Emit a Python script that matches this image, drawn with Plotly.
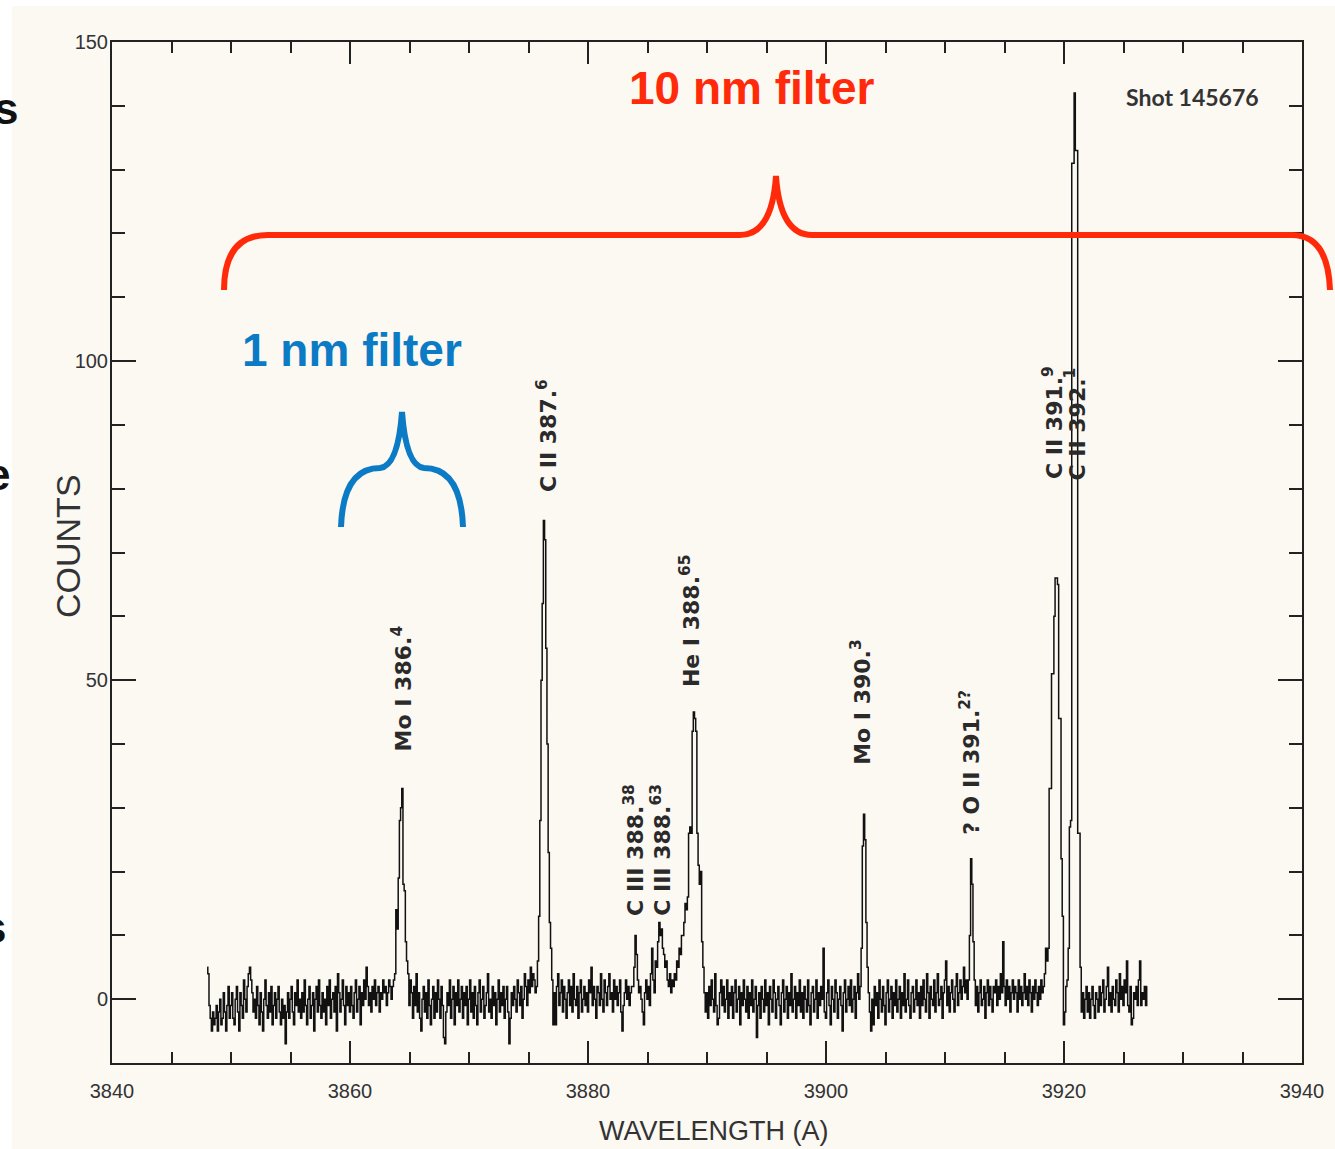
import plotly.graph_objects as go

# ---------------- data ----------------
wl_start = 3848.0   # first wavelength sample (A)
wl_step = 0.1       # sample spacing (A)

counts = [
    5, 4, -1, -3, -5, -2, -4, -3, -1, -5, -2, 0, -4, -3, 1, -2, -5, -1, 2, -3,
    -1, 1, -3, -4, 0, 2, -2, -5, 1, -1, -3, 3, 0, -2, 2, 4, 5, 3, 1, -2,
    0, -3, 2, -1, -4, 1, -2, -5, 0, 3, -1, -3, 1, -2, 2, -4, -1, 1, -3, 0,
    2, -2, -4, 0, -3, -1, -7, -2, 1, -3, 0, 2, -2, -4, 1, -1, 3, -2, 0, -3,
    1, -2, 3, -1, -4, 0, 2, -3, -1, 1, -5, 0, 2, -2, 3, -1, -3, 1, -2, 0,
    -4, 2, -1, 3, -3, 0, 1, -2, 2, -5, 4, 1, -2, 0, 3, -1, -4, 2, -1, 1,
    -2, 2, -1, -3, 1, 3, -2, 0, 2, -4, 1, -1, 3, 0, 5, 2, -1, 1, -2, 2,
    0, 3, -1, 1, 2, -2, 1, 0, 3, 1, 2, -1, 1, 3, 2, 0, 2, 3, 4, 14,
    11, 19, 28, 30, 33, 18, 17, 9, 6, 4, -1, 3, 1, -3, 2, -1, 4, -2, 1, -3,
    -5, 0, 2, -2, 1, -3, 3, -1, -4, 0, 2, -3, 1, -2, 3, 0, -3, 2, -1, -6,
    -7, -2, 1, -1, 3, -3, 0, 2, -4, 1, -1, 3, -2, 0, 2, -3, 1, -1, 2, -4,
    0, 3, -2, 1, -3, 2, -1, -4, 1, 3, -2, 0, 2, -3, -1, 1, 4, -2, 0, -3,
    2, -1, 1, -4, 0, 3, -2, 1, -1, 2, -3, 0, 2, -2, -7, -3, 1, -1, 2, 0,
    -2, 3, 1, -1, 2, -3, 0, 4, 2, -1, 3, 1, 5, 2, 4, 3, 1, 2, 6, 13,
    28, 50, 62, 75, 72, 55, 40, 23, 12, 8, 3, -4, 1, -4, 2, 4, -1, 1, 3, -2,
    2, 0, -3, 1, 3, -1, 2, -2, 4, 0, -1, 2, -3, 1, 3, -2, 0, 2, -1, 1,
    -2, 3, 1, 5, -1, 2, 0, -3, 2, 1, -1, 4, 0, -2, 3, 1, -1, 2, 4, 0,
    1, -2, 3, 0, 2, -1, 1, 3, -2, -5, -1, 1, 3, 0, 2, -1, 1, 2, 2, 5,
    10, 7, 3, 1, 2, 0, -2, -4, 1, 3, 0, 2, -1, 4, 8, 3, 1, 6, 5, 9,
    12, 10, 11, 8, 7, 5, 6, 3, 2, 4, 1, 3, 2, 4, 3, 6, 5, 8, 7, 10,
    10, 12, 15, 14, 16, 26, 27, 26, 42, 45, 44, 42, 26, 21, 18, 20, 9, 5, 1, -2,
    1, -3, 2, -1, 3, 0, -2, 4, -1, -4, -3, 1, 3, -1, 2, -2, 0, 3, -3, 1,
    -1, 2, -3, 1, 3, -2, 0, 2, -4, 1, -1, 3, 0, -2, 2, -3, 1, -1, 3, -2,
    0, 2, -6, -1, 1, -3, 2, 0, -2, 3, -1, 1, -4, 2, 0, -2, 3, 1, -3, 0,
    2, -1, -4, 1, 3, -2, 0, 2, -3, 1, -1, 4, -2, 0, 2, -3, 1, -1, 3, -2,
    1, -3, 2, 0, -2, 3, -1, -4, 1, 2, -2, 0, 3, -3, 1, -1, 2, 0, 8, -2,
    -3, 1, 3, -1, -4, 2, 0, -2, 3, 1, -3, 0, 2, -1, -5, 1, 3, -2, 0, 2,
    -1, 3, -2, 0, 2, -3, 1, 4, 0, 2, 8, 24, 29, 25, 12, 5, 1, -2, -5, 0,
    -4, 2, -1, 1, -3, 3, 0, -2, 2, -1, -4, 1, 3, -2, 0, 2, -3, 1, -1, 3,
    -2, 0, 2, -3, 1, -1, 4, -2, 0, 3, -1, -3, 1, 2, -2, 0, 3, -1, 1, -3,
    2, -1, 3, 0, -2, 4, 1, -3, 2, 0, -1, 3, -2, 1, 4, -1, 0, 2, -3, 1,
    3, 6, -1, 2, -2, 1, 3, 0, -2, 2, 4, -1, 1, 3, 0, 2, 5, 1, 3, 0,
    3, 10, 22, 18, 9, 3, -1, 2, -2, 1, 3, -1, 0, 2, -3, 1, 3, -1, 2, 0,
    -2, 2, 1, 3, -1, 2, 0, 4, 1, 9, 2, -1, 3, 0, 2, -2, 1, 3, 0, 2,
    1, -2, 3, 0, 2, -1, 1, 4, 0, 2, -1, 3, 1, -2, 2, 0, 3, 1, -1, 2,
    0, 3, 1, 2, 4, 8, 6, 8, 33, 33, 51, 51, 60, 66, 66, 65, 44, 44, 22, 13,
    -4, -2, 2, 3, 8, 27, 28, 131, 131, 142, 133, 133, 26, 26, 5, -2, 1, -3, 0, 2,
    -2, 1, -3, 0, 2, -1, -3, 1, 0, -2, 2, -1, 1, 3, -2, 0, 2, 5, -1, 1,
    -2, 2, 0, -1, 3, 1, -2, 4, 0, 2, -1, 3, 1, 6, -1, -2, 2, -4, -3, 1,
    0, 2, -1, 3, 6, -1, 1, 0, 2, -1, 2,
]
wavelength = [round(wl_start + wl_step * i, 2) for i in range(len(counts))]

line_labels = [
    "Mo I 386.<sup>4</sup>",
    "C II 387.<sup>6</sup>",
    "C III 388.<sup>38</sup>",
    "C III 388.<sup>63</sup>",
    "He I 388.<sup>65</sup>",
    "Mo I 390.<sup>3</sup>",
    "? O II 391.<sup>2?</sup>",
    "C II 391.<sup>9</sup>",
    "C II 392.<sup>1</sup>",
]
line_label_wl = [3864.37, 3876.55, 3883.87, 3886.13, 3888.57, 3902.94, 3912.1, 3919.08, 3920.92]
line_label_y = [48.7, 88.4, 23.4, 23.4, 59.4, 46.6, 37.2, 90.3, 90.2]

x_range = [3840, 3940]
y_range = [-10, 150]

# ---------------- layout helpers ----------------
W, H = 1335, 1149
L, R, T, B = 112, 1302, 42, 1063
def X(p):
    return (p - L) / (R - L)
def Y(p):
    return (B - p) / (B - T)

cream = "#FCF8F2"
ink = "#222222"
red = "#FF2A0A"
blue = "#0A7BC4"

fig = go.Figure()
fig.add_trace(go.Scatter(
    x=wavelength, y=counts, mode="lines",
    line=dict(color="#111111", width=1.5, shape="hvh"),
    hoverinfo="skip",
))

tickfont = dict(family="Liberation Sans, Arial, sans-serif", size=20, color="#333333")

fig.update_layout(
    width=W, height=H,
    margin=dict(l=L, r=W - R, t=T, b=H - B),
    paper_bgcolor=cream, plot_bgcolor=cream,
    showlegend=False,
    xaxis=dict(
        range=x_range, tick0=3840, dtick=20, ticks="inside", ticklen=22, tickwidth=1.5,
        tickcolor=ink, showline=True, linecolor=ink, linewidth=2, mirror="ticks",
        showgrid=False, zeroline=False, tickfont=tickfont, ticklabelstandoff=9,
        minor=dict(dtick=5, ticks="inside", ticklen=11, tickwidth=1.5, tickcolor=ink, showgrid=False),
    ),
    yaxis=dict(
        range=y_range, tick0=0, dtick=50, ticks="inside", ticklen=24, tickwidth=1.5,
        tickcolor=ink, showline=True, linecolor=ink, linewidth=2, mirror="ticks",
        showgrid=False, zeroline=False, tickfont=tickfont, ticklabelstandoff=-2,
        minor=dict(dtick=10, ticks="inside", ticklen=13, tickwidth=1.5, tickcolor=ink, showgrid=False),
    ),
)

shapes = []
# white margins of the slide crop
shapes.append(dict(type="rect", xref="paper", yref="paper", x0=X(0), x1=X(12), y0=Y(H), y1=Y(0),
                   fillcolor="white", line=dict(width=0), layer="below"))
shapes.append(dict(type="rect", xref="paper", yref="paper", x0=X(0), x1=X(W), y0=Y(6), y1=Y(0),
                   fillcolor="white", line=dict(width=0), layer="below"))

def pth(cmds):
    out = []
    for c in cmds:
        if isinstance(c, str):
            out.append(c)
        else:
            out.append(f"{X(c[0]):.5f},{Y(c[1]):.5f}")
    return " ".join(out)

red_path = pth(["M", (224, 290), "Q", (224, 235), (268, 235), "L", (740, 235),
                "Q", (772, 235), (776, 176), "Q", (780, 235), (812, 235),
                "L", (1292, 235), "Q", (1328, 235), (1330, 290)])
blue_path = pth(["M", (341, 527), "Q", (343, 468), (380, 468), "Q", (398, 466), (402, 412),
                 "Q", (406, 466), (424, 468), "Q", (461, 468), (463, 527)])
shapes.append(dict(type="path", xref="paper", yref="paper", path=red_path,
                   line=dict(color=red, width=6), layer="above"))
shapes.append(dict(type="path", xref="paper", yref="paper", path=blue_path,
                   line=dict(color=blue, width=6), layer="above"))
fig.update_layout(shapes=shapes)

ann = []
label_font = dict(family="DejaVu Sans", size=22, color="#2a2a2a")
for txt, xv, yv in zip(line_labels, line_label_wl, line_label_y):
    ann.append(dict(x=xv, y=yv, xref="x", yref="y", text="<b>" + txt + "</b>", showarrow=False,
                    textangle=-90, xanchor="center", yanchor="middle", font=label_font))

ann.append(dict(x=X(1192), y=Y(97), xref="paper", yref="paper", text="<b>Shot 145676</b>",
                showarrow=False, xanchor="center", yanchor="middle",
                font=dict(family="Lato", size=23, color="#333333")))
ann.append(dict(x=X(752), y=Y(88), xref="paper", yref="paper", text="<b>10 nm filter</b>",
                showarrow=False, xanchor="center", yanchor="middle",
                font=dict(family="Liberation Sans", size=46, color=red)))
ann.append(dict(x=X(352), y=Y(350), xref="paper", yref="paper", text="<b>1 nm filter</b>",
                showarrow=False, xanchor="center", yanchor="middle",
                font=dict(family="Liberation Sans", size=46, color=blue)))
ann.append(dict(x=X(714), y=Y(1131), xref="paper", yref="paper", text="WAVELENGTH (A)",
                showarrow=False, xanchor="center", yanchor="middle",
                font=dict(family="Liberation Sans", size=27, color="#333333")))
ann.append(dict(x=X(68), y=Y(546), xref="paper", yref="paper", text="COUNTS", textangle=-90,
                showarrow=False, xanchor="center", yanchor="middle",
                font=dict(family="Liberation Sans", size=34, color="#333333")))
# cut-off letters from the slide text on the left edge (partially outside the crop, as in the source)
for txt, xr, yc in [("s", 20, 108), ("e", 12, 474), ("s", 8, 927)]:
    ann.append(dict(x=X(xr), y=Y(yc), xref="paper", yref="paper", text="<b>" + txt + "</b>",
                    showarrow=False, xanchor="right", yanchor="middle",
                    font=dict(family="Liberation Sans", size=44, color="#111111")))
fig.update_layout(annotations=ann)

fig.write_html("out.html", config={"displayModeBar": False},
               post_script="document.body.style.margin='0px';")
